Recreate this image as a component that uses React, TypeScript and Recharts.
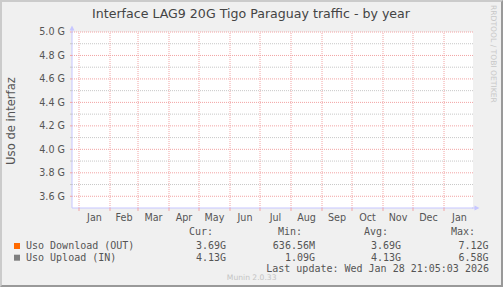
import React from "react";
import {
  LineChart,
  Line,
  XAxis,
  YAxis,
  ReferenceLine,
  ReferenceArea,
} from "recharts";

// ---- data ----
const title = "Interface LAG9 20G Tigo Paraguay traffic - by year";
const yLabel = "Uso de interfaz";
// days counted from Jan 1 2025
const monthStarts = [0, 31, 59, 90, 120, 151, 181, 212, 243, 273, 304, 334, 365, 396];
const monthLabels = ["Jan", "Feb", "Mar", "Apr", "May", "Jun", "Jul", "Aug", "Sep", "Oct", "Nov", "Dec", "Jan"];
const xDomain = [-7, 394];
const yDomain = [3.5, 5.0];
const yMajorTicks = [3.6, 3.8, 4.0, 4.2, 4.4, 4.6, 4.8, 5.0];
const yMinorTicks = [3.7, 3.9, 4.1, 4.3, 4.5, 4.7, 4.9];
const days = [-7, 394];
const downloadValues: (number | null)[] = [null, null];
const uploadValues: (number | null)[] = [null, null];

const seriesNames = ["Uso Download (OUT)", "Uso Upload (IN)"];
const seriesColors = ["#ff6a00", "#7f7f7f"];
const statHeaders = ["Cur:", "Min:", "Avg:", "Max:"];
const downloadStats = ["3.69G", "636.56M", "3.69G", "7.12G"];
const uploadStats = ["4.13G", "1.09G", "4.13G", "6.58G"];
const lastUpdate = "Last update: Wed Jan 28 21:05:03 2026";
const muninVersion = "Munin 2.0.33";
const rrdCredit = "RRDTOOL / TOBI OETIKER";

const data = days.map((d, i) => ({
  day: d,
  download: downloadValues[i],
  upload: uploadValues[i],
}));

const monthMids = monthLabels.map((_, i) => (monthStarts[i] + monthStarts[i + 1]) / 2);
const startTicks = monthStarts.slice(0, 13);
const xTicks = [...startTicks, ...monthMids].sort((a, b) => a - b);
const yTicks = [...yMajorTicks, ...yMinorTicks].sort((a, b) => a - b);

const RED = "#f2a4a4";
const GRAY = "#c8c8c8";
const AXIS = "#c6c6ff";
const TEXT = "#555555";
const SANS = "'DejaVu Sans', sans-serif";
const MONO = "'DejaVu Sans Mono', monospace";

const XTick = (props: any) => {
  const { x, y, payload } = props;
  const v = payload.value;
  const si = startTicks.indexOf(v);
  if (si >= 0) {
    return <line x1={x} x2={x} y1={y} y2={y + 3} stroke={RED} strokeWidth={1} />;
  }
  const mi = monthMids.indexOf(v);
  return (
    <text x={x} y={y + 12.5} textAnchor="middle" fill={TEXT} fontSize={9.6} fontFamily={SANS}>
      {mi >= 0 ? monthLabels[mi] : ""}
    </text>
  );
};

const YTick = (props: any) => {
  const { x, y, payload } = props;
  const v = payload.value;
  const major = yMajorTicks.some((t) => Math.abs(t - v) < 1e-6);
  return (
    <g>
      <line x1={70} x2={72} y1={y} y2={y} stroke={major ? RED : GRAY} />
      {major && (
        <text x={65} y={y} dy="0.36em" textAnchor="end" fill={TEXT} fontSize={9.6} fontFamily={SANS}>
          {v.toFixed(1) + " G"}
        </text>
      )}
    </g>
  );
};

const statRight = [226, 315, 401, 488.5];
const headerRight = [213, 302, 388, 475];

export default function App() {
  return (
    <div
      style={{
        position: "fixed",
        left: 0,
        top: 0,
        width: 503,
        height: 287,
        background: "#f0f0f0",
        overflow: "hidden",
      }}
    >
      <div style={{ position: "absolute", left: 0, top: 0 }}>
        <LineChart
          width={503}
          height={287}
          data={data}
          margin={{ top: 32, right: 30, bottom: 49, left: 12 }}
        >
          <ReferenceArea
            x1={xDomain[0]}
            x2={xDomain[1]}
            y1={yDomain[0]}
            y2={yDomain[1]}
            fill="#ffffff"
            fillOpacity={1}
            stroke="none"
            ifOverflow="visible"
          />
          {yMinorTicks.map((t) => (
            <ReferenceLine key={"mi" + t} y={t} stroke={GRAY} strokeDasharray="1 1" />
          ))}
          {yMajorTicks.map((t) => (
            <ReferenceLine key={"ma" + t} y={t} stroke={RED} strokeDasharray="1 1" />
          ))}
          {startTicks.map((t) => (
            <ReferenceLine key={"v" + t} x={t} stroke={RED} strokeDasharray="1 1" />
          ))}
          <XAxis
            dataKey="day"
            type="number"
            domain={xDomain}
            ticks={xTicks}
            interval={0}
            allowDataOverflow
            tickSize={0}
            tickMargin={0}
            tickLine={false}
            height={30}
            axisLine={{ stroke: AXIS }}
            tick={(p: any) => <XTick {...p} />}
          />
          <YAxis
            type="number"
            domain={yDomain}
            ticks={yTicks}
            interval={0}
            allowDataOverflow
            width={60}
            tickSize={0}
            tickMargin={0}
            tickLine={false}
            axisLine={{ stroke: AXIS }}
            tick={(p: any) => <YTick {...p} />}
          />
          <Line
            dataKey="download"
            stroke={seriesColors[0]}
            dot={false}
            isAnimationActive={false}
            connectNulls={false}
          />
          <Line
            dataKey="upload"
            stroke={seriesColors[1]}
            dot={false}
            isAnimationActive={false}
            connectNulls={false}
          />
        </LineChart>
      </div>
      <svg
        width={503}
        height={287}
        style={{ position: "absolute", left: 0, top: 0, pointerEvents: "none" }}
      >
        {/* axis extensions + arrows */}
        <line x1={72} x2={72} y1={29} y2={33} stroke={AXIS} />
        <polygon points="72,25.5 69.5,30.5 74.5,30.5" fill={AXIS} />
        <line x1={472} x2={476} y1={208} y2={208} stroke={AXIS} />
        <polygon points="479.5,208 474.5,205.5 474.5,210.5" fill={AXIS} />

        <text x={251} y={18} textAnchor="middle" fill="#444" fontSize={12.6} fontFamily={SANS}>
          {title}
        </text>
        <text
          x={15}
          y={121}
          textAnchor="middle"
          fill={TEXT}
          fontSize={11.6}
          fontFamily={SANS}
          transform="rotate(-90 15 121)"
        >
          {yLabel}
        </text>
        <text
          x={490.5}
          y={5}
          textAnchor="start"
          fill="#c8c8c8"
          fontSize={7.6}
          fontFamily={SANS}
          transform="rotate(90 490.5 5)"
        >
          {rrdCredit}
        </text>

        {statHeaders.map((h, i) => (
          <text key={h} x={headerRight[i]} y={235.3} textAnchor="end" fill={TEXT} fontSize={10} fontFamily={MONO}>
            {h}
          </text>
        ))}
        {seriesNames.map((n, r) => (
          <g key={n}>
            <rect x={14} y={243 + r * 11.7} width={6} height={6} fill={seriesColors[r]} />
            <text x={26} y={249.3 + r * 11.7} fill={TEXT} fontSize={10} fontFamily={MONO}>
              {n}
            </text>
            {(r === 0 ? downloadStats : uploadStats).map((s, i) => (
              <text
                key={i}
                x={statRight[i]}
                y={249.3 + r * 11.7}
                textAnchor="end"
                fill={TEXT}
                fontSize={10}
                fontFamily={MONO}
              >
                {s}
              </text>
            ))}
          </g>
        ))}
        <text x={489} y={272.3} textAnchor="end" fill={TEXT} fontSize={10} fontFamily={MONO}>
          {lastUpdate}
        </text>
        <text x={251.7} y={279.5} textAnchor="middle" fill="#c4c4c4" fontSize={7.6} fontFamily={SANS}>
          {muninVersion}
        </text>
      </svg>
      <div
        style={{
          position: "absolute",
          left: 0,
          top: 0,
          width: 503,
          height: 287,
          boxSizing: "border-box",
          borderTop: "2px solid #cbcbcb",
          borderLeft: "2px solid #cbcbcb",
          borderRight: "2px solid #999999",
          borderBottom: "2px solid #999999",
          pointerEvents: "none",
        }}
      />
    </div>
  );
}
